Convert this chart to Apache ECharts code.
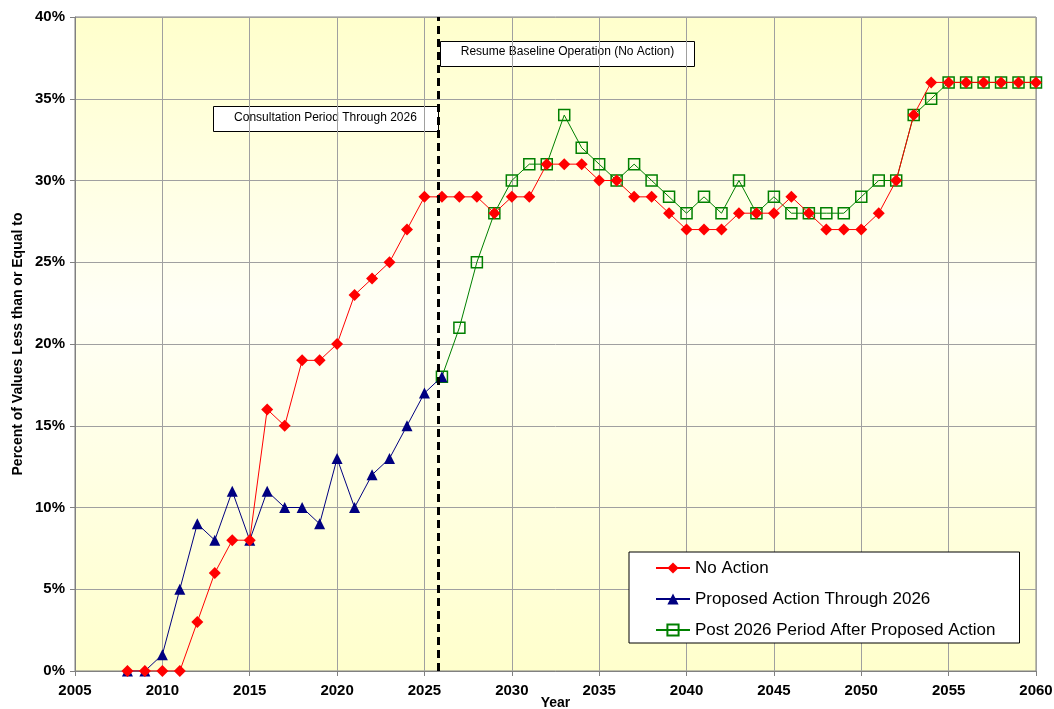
<!DOCTYPE html>
<html>
<head>
<meta charset="utf-8">
<script src="https://cdn.jsdelivr.net/npm/echarts@6/dist/echarts.min.js"></script>
<style>
  html, body { margin: 0; padding: 0; background: #fff; }
  #chart { width: 1054px; height: 709px; }
</style>
</head>
<body>
<div id="chart"></div>
<script>
  // years for each series
  const noActionYears = [];
  for (let y = 2008; y <= 2060; y++) noActionYears.push(y);
  const proposedYears = [];
  for (let y = 2008; y <= 2026; y++) proposedYears.push(y);
  const postYears = [];
  for (let y = 2026; y <= 2060; y++) postYears.push(y);

  // percent values
  const noActionValues = [
    0, 0, 0, 0, 3, 6, 8, 8, 16, 15,
    19, 19, 20, 23, 24, 25, 27, 29, 29, 29,
    29, 28, 29, 29, 31, 31, 31, 30, 30, 29,
    29, 28, 27, 27, 27, 28, 28, 28, 29, 28,
    27, 27, 27, 28, 30, 34, 36, 36, 36, 36,
    36, 36, 36
  ];
  const proposedValues = [
    0, 0, 1, 5, 9, 8, 11, 8, 11, 10,
    10, 9, 13, 10, 12, 13, 15, 17, 18
  ];
  const postValues = [
    18, 21, 25, 28, 30, 31, 31, 34, 32, 31,
    30, 31, 30, 29, 28, 29, 28, 30, 28, 29,
    28, 28, 28, 28, 29, 30, 30, 34, 35, 36,
    36, 36, 36, 36, 36
  ];

  const seriesNames = ['No Action', 'Proposed Action Through 2026', 'Post 2026 Period After Proposed Action'];
  const consultationEnd = 2025.8;

  const pairs = (xs, vs) => xs.map((x, i) => [x, vs[i]]);

  const chart = echarts.init(document.getElementById('chart'));
  const boxFont = '"Liberation Sans", Arial, sans-serif';

  const option = {
    animation: false,
    textStyle: { fontFamily: '"Liberation Sans", Arial, sans-serif' },
    grid: {
      left: 75, right: 18, top: 17, bottom: 38,
      outerBoundsMode: 'none',
      containLabel: false,
      show: true,
      borderColor: '#808080',
      borderWidth: 1,
      backgroundColor: new echarts.graphic.LinearGradient(0, 0, 0, 1, [
        { offset: 0, color: '#ffffcc' },
        { offset: 0.45, color: '#fffff6' },
        { offset: 1, color: '#ffffcc' }
      ])
    },
    xAxis: {
      type: 'value',
      min: 2005, max: 2060, interval: 5,
      name: 'Year',
      nameLocation: 'middle',
      nameMoveOverlap: false,
      nameGap: 25,
      nameTextStyle: { fontWeight: 'bold', fontSize: 14, color: '#000', verticalAlign: 'top' },
      axisLine: { show: true, lineStyle: { color: '#808080' } },
      axisTick: { show: true, length: 5, lineStyle: { color: '#808080' } },
      axisLabel: { color: '#000', fontWeight: 'bold', fontSize: 15, margin: 12, formatter: v => String(v) },
      splitLine: { show: true, lineStyle: { color: '#a0a0a0' } }
    },
    yAxis: {
      type: 'value',
      min: 0, max: 40, interval: 5,
      name: 'Percent of Values Less than or Equal to',
      nameLocation: 'middle',
      nameMoveOverlap: false,
      nameGap: 50,
      nameTextStyle: { fontWeight: 'bold', fontSize: 14, color: '#000' },
      axisLine: { show: true, lineStyle: { color: '#808080' } },
      axisTick: { show: true, length: 5, lineStyle: { color: '#808080' } },
      axisLabel: { color: '#000', fontWeight: 'bold', fontSize: 15, margin: 10, formatter: '{value}%' },
      splitLine: { show: true, lineStyle: { color: '#a0a0a0' } }
    },
    legend: {
      orient: 'vertical',
      left: 629, top: 552,
      backgroundColor: '#fff',
      borderColor: '#000',
      borderWidth: 1,
      padding: [7, 24, 4, 26],
      itemGap: 13,
      itemWidth: 34,
      itemHeight: 14,
      textStyle: { fontSize: 17, lineHeight: 18, color: '#000' },
      data: seriesNames
    },
    series: [
      {
        name: seriesNames[2],
        type: 'line',
        z: 2,
        data: pairs(postYears, postValues),
        symbol: 'rect',
        symbolSize: 11,
        lineStyle: { color: '#008000', width: 1 },
        itemStyle: { color: 'rgba(255,255,255,0)', borderColor: '#008000', borderWidth: 1.5 }
      },
      {
        name: seriesNames[1],
        type: 'line',
        z: 3,
        data: pairs(proposedYears, proposedValues),
        symbol: 'triangle',
        symbolSize: 11,
        lineStyle: { color: '#000080', width: 1 },
        itemStyle: { color: '#000080' }
      },
      {
        name: seriesNames[0],
        type: 'line',
        z: 4,
        data: pairs(noActionYears, noActionValues),
        symbol: 'diamond',
        symbolSize: 12,
        lineStyle: { color: '#ff0000', width: 1 },
        itemStyle: { color: '#ff0000' },
        markLine: {
          silent: true,
          symbol: 'none',
          label: { show: false },
          lineStyle: { color: '#000', type: [8, 5], width: 3 },
          data: [{ xAxis: consultationEnd }]
        }
      }
    ],
    graphic: [
      {
        type: 'group', left: 213, top: 106, z: 100,
        children: [
          { type: 'rect', shape: { x: 0, y: 0, width: 225, height: 25 },
            style: { fill: '#fff', stroke: '#000', lineWidth: 1 } },
          { type: 'text', x: 112, y: 11,
            style: { text: 'Consultation Period Through 2026', font: '12px ' + boxFont,
                     fill: '#000', align: 'center', verticalAlign: 'middle' } }
        ]
      },
      {
        type: 'group', left: 440, top: 41, z: 100,
        children: [
          { type: 'rect', shape: { x: 0, y: 0, width: 254, height: 25 },
            style: { fill: '#fff', stroke: '#000', lineWidth: 1 } },
          { type: 'text', x: 127, y: 10,
            style: { text: 'Resume Baseline Operation (No Action)', font: '12px ' + boxFont,
                     fill: '#000', align: 'center', verticalAlign: 'middle' } }
        ]
      }
    ]
  };

  chart.setOption(option);
</script>
</body>
</html>
